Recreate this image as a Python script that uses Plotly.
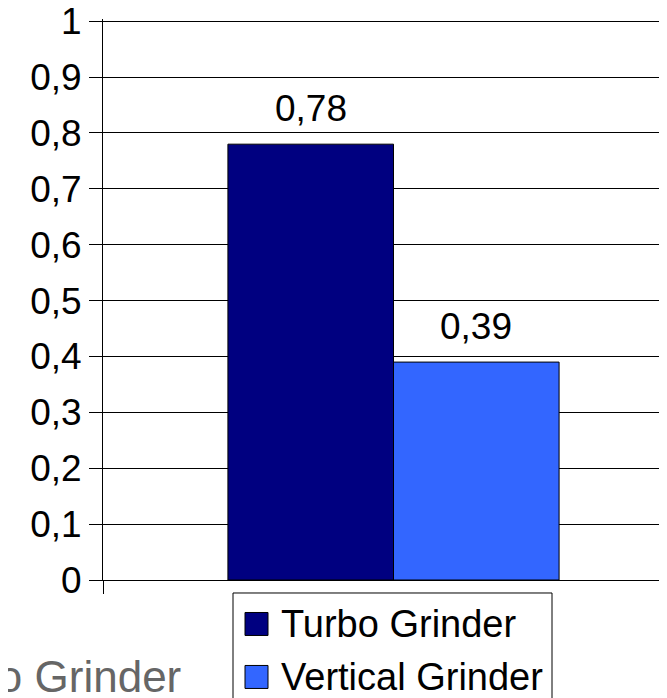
import plotly.graph_objects as go

# ---- data ----
category = ["Grinders"]
series_names = ["Turbo Grinder", "Vertical Grinder"]
series_values = [0.78, 0.39]
value_labels = ["0,78", "0,39"]
series_colors = ["#000080", "#3366FF"]
axis_labels = ["Turbo Grinder", "Vertical Grinder"]
y_tick_vals = [0, 0.1, 0.2, 0.3, 0.4, 0.5, 0.6, 0.7, 0.8, 0.9, 1.0]
y_tick_text = ["0", "0,1", "0,2", "0,3", "0,4", "0,5", "0,6", "0,7", "0,8", "0,9", "1"]

FONT = "Liberation Sans, Arial, sans-serif"
FS = 37
BARGAP = 0.43
OFF = 8  # page body margin offset
W, H = 667, 698
Y_TOP = 1.004  # a hair above 1 so the top gridline is drawn
PX_PER_Y = 559.0
ML = 103 - OFF
MB = H - (580 - OFF)
MT = (21 - OFF) - (Y_TOP - 1.0) * PX_PER_Y
PW, PH = W - ML, H - MT - MB
PX_PER_UNIT = 581.0
XR0 = -0.5
XR1 = XR0 + PW / PX_PER_UNIT


def px(xp):
    return (xp - OFF - ML) / PW


def py(yp):
    return (H - MB - (yp - OFF)) / PH


fig = go.Figure()
for name, val, col in zip(series_names, series_values, series_colors):
    fig.add_trace(go.Bar(
        x=category, y=[val], name=name, showlegend=False,
        marker=dict(color=col, line=dict(color="black", width=1)),
    ))

# value labels above bars
n = len(series_names)
bw = (1 - BARGAP) / n
for i, (val, lab) in enumerate(zip(series_values, value_labels)):
    off = -(1 - BARGAP) / 2 + bw * (i + 0.5)
    fig.add_annotation(x=off, y=val, xref="x", yref="y", text=lab,
                       showarrow=False, yanchor="middle", yshift=36,
                       font=dict(family=FONT, size=FS, color="black"))

# grey category labels (cut off at edges)
fig.add_annotation(x=px(183), y=py(677), xref="paper", yref="paper",
                   text=axis_labels[0], showarrow=False, xanchor="right", yanchor="middle",
                   font=dict(family=FONT, size=44, color="#666666"))
fig.add_annotation(x=px(657), y=py(677), xref="paper", yref="paper",
                   text=axis_labels[1], showarrow=False, xanchor="left", yanchor="middle",
                   font=dict(family=FONT, size=44, color="#666666"))

# legend box (drawn below the plot)
fig.add_shape(type="rect", xref="paper", yref="paper",
              x0=px(233), x1=px(552), y0=py(593), y1=py(740),
              line=dict(color="black", width=1), fillcolor="white", layer="above")
leg_rows = [624, 677]
for name, col, yc in zip(series_names, series_colors, leg_rows):
    fig.add_shape(type="rect", xref="paper", yref="paper",
                  x0=px(245), x1=px(268), y0=py(yc + 11.5), y1=py(yc - 11.5),
                  line=dict(color="black", width=1), fillcolor=col, layer="above")
    fig.add_annotation(x=px(279), y=py(yc), xref="paper", yref="paper",
                       text=name, showarrow=False, xanchor="left", yanchor="middle",
                       font=dict(family=FONT, size=38, color="black"))

fig.update_layout(
    width=W, height=H,
    margin=dict(l=ML, r=0, t=MT, b=MB, autoexpand=False),
    paper_bgcolor="white", plot_bgcolor="white",
    barmode="group", bargap=BARGAP, bargroupgap=0,
    font=dict(family=FONT, size=FS, color="black"),
    showlegend=False,
    xaxis=dict(type="category", range=[XR0, XR1], showticklabels=False,
               ticks="outside", tickson="boundaries", ticklen=13, tickcolor="black",
               showline=True, linecolor="black", linewidth=1, showgrid=False,
               zeroline=False, automargin=False),
    yaxis=dict(range=[0, Y_TOP], tickvals=y_tick_vals, ticktext=y_tick_text,
               ticks="outside", ticklen=13, tickcolor="black",
               showline=True, linecolor="black", linewidth=1,
               showgrid=True, gridcolor="black", gridwidth=1, zeroline=False,
               automargin=False, ticklabeloverflow="allow",
               tickfont=dict(family=FONT, size=FS, color="black")),
)

fig.write_html("out.html")
